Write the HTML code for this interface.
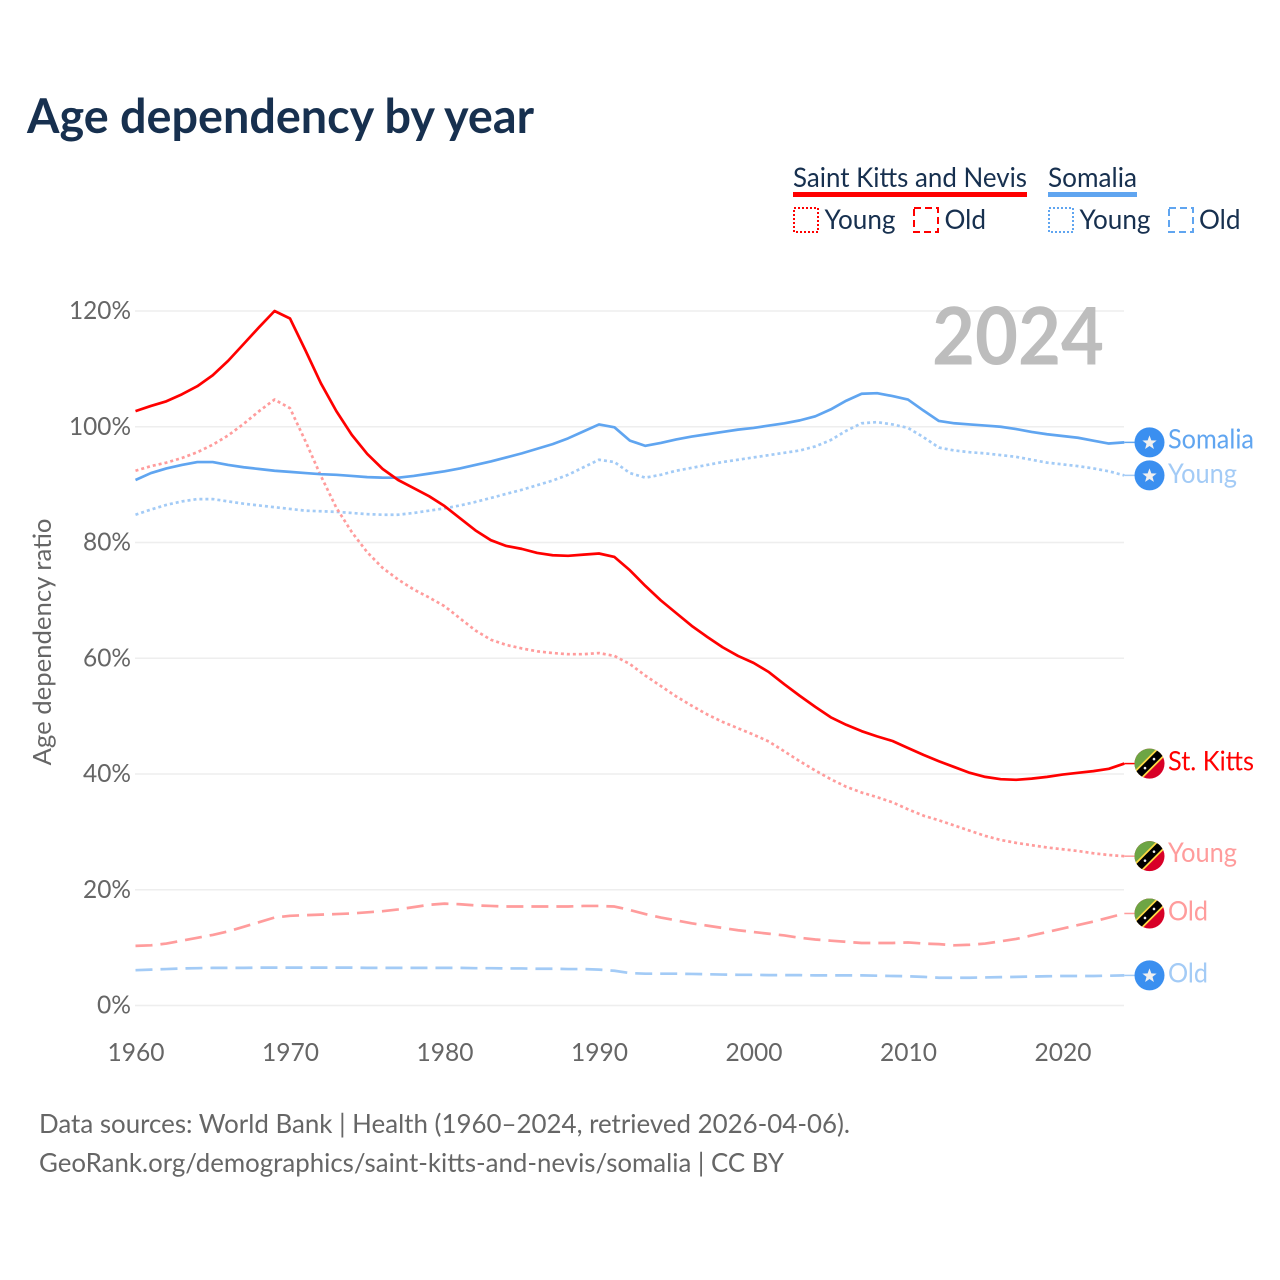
<!DOCTYPE html>
<html lang="en">
<head>
<meta charset="utf-8">
<title>Age dependency by year</title>
<style>
html,body{margin:0;padding:0;background:#fff;}
svg{display:block;}
text{font-family:"Lato","Carlito","Liberation Sans",sans-serif;}
</style>
</head>
<body>
<svg id="chart" xmlns="http://www.w3.org/2000/svg" width="1280" height="1280" viewBox="0 0 1280 1280">
  <rect width="1280" height="1280" fill="#fff"/>
  <text x="27" y="133" font-size="47.5" font-weight="700" fill="#17304f" textLength="507" lengthAdjust="spacingAndGlyphs">Age dependency by year</text>

  <g>
    <text x="793" y="187" font-size="27" fill="#17304f" textLength="234" lengthAdjust="spacingAndGlyphs">Saint Kitts and Nevis</text>
    <rect x="793" y="192" width="234" height="5" fill="#ff0000"/>
    <text x="1048" y="187" font-size="27" fill="#17304f" textLength="89" lengthAdjust="spacingAndGlyphs">Somalia</text>
    <rect x="1048" y="192" width="89" height="5" fill="#60a5f0"/>

    <rect x="794" y="208" width="24" height="24" fill="none" stroke="#ff0000" stroke-width="2" stroke-dasharray="2 2"/>
    <text x="824.5" y="229" font-size="27" fill="#17304f" textLength="71" lengthAdjust="spacingAndGlyphs">Young</text>
    <rect x="914" y="208" width="24" height="24" fill="none" stroke="#ff0000" stroke-width="2" stroke-dasharray="7 4"/>
    <text x="944.5" y="229" font-size="27" fill="#17304f" textLength="41.5" lengthAdjust="spacingAndGlyphs">Old</text>

    <rect x="1049" y="208" width="24" height="24" fill="none" stroke="#60a5f0" stroke-width="2" stroke-dasharray="2 2"/>
    <text x="1079.5" y="229" font-size="27" fill="#17304f" textLength="71" lengthAdjust="spacingAndGlyphs">Young</text>
    <rect x="1169" y="208" width="24" height="24" fill="none" stroke="#60a5f0" stroke-width="2" stroke-dasharray="7 4"/>
    <text x="1199" y="229" font-size="27" fill="#17304f" textLength="41.5" lengthAdjust="spacingAndGlyphs">Old</text>
  </g>

  <g id="grid"></g>
  <g id="yticks"></g>
  <g id="xticks"></g>
  <text transform="translate(51 642) rotate(-90)" text-anchor="middle" font-size="25" fill="#666" textLength="247" lengthAdjust="spacingAndGlyphs">Age dependency ratio</text>
  <text x="932" y="364.5" font-size="80" font-weight="700" fill="#bdbdbd" textLength="172" lengthAdjust="spacingAndGlyphs">2024</text>
  <g id="series"></g>
  <g id="endlabels"></g>

  <text x="39" y="1133" font-size="26" fill="#666" textLength="811" lengthAdjust="spacingAndGlyphs">Data sources: World Bank | Health (1960–2024, retrieved 2026-04-06).</text>
  <text x="39" y="1172" font-size="26" fill="#666" textLength="745" lengthAdjust="spacingAndGlyphs">GeoRank.org/demographics/saint-kitts-and-nevis/somalia | CC BY</text>
</svg>
<script>
const startYear = 1960;
const xTickYears = [1960, 1970, 1980, 1990, 2000, 2010, 2020];
const yTickValues = [0, 20, 40, 60, 80, 100, 120];

const kittsTotal = [102.7,103.6,104.4,105.6,107,108.9,111.4,114.3,117.2,120,118.7,113.2,107.5,102.7,98.6,95.3,92.7,90.8,89.4,88,86.3,84.2,82.1,80.4,79.4,78.9,78.2,77.8,77.7,77.9,78.1,77.5,75.2,72.5,70,67.8,65.6,63.7,61.9,60.4,59.2,57.6,55.5,53.5,51.6,49.8,48.5,47.4,46.5,45.7,44.5,43.3,42.2,41.2,40.2,39.5,39.1,39,39.2,39.5,39.9,40.2,40.5,40.9,41.8];
const kittsYoung = [92.4,93.2,93.8,94.6,95.6,96.9,98.5,100.5,102.7,104.7,103.2,97.5,91.5,86,81.8,78.3,75.6,73.6,71.9,70.5,69,66.9,64.8,63.2,62.3,61.7,61.2,60.9,60.7,60.7,60.9,60.4,59,57,55.2,53.4,51.8,50.3,49,47.9,46.8,45.6,43.9,42.2,40.6,39.1,37.8,36.8,36,35.1,33.9,32.8,32,31.1,30.2,29.3,28.6,28.1,27.7,27.3,27,26.7,26.3,26,25.8];
const kittsOld = [10.3,10.4,10.7,11.2,11.7,12.2,12.8,13.6,14.4,15.2,15.5,15.6,15.7,15.8,15.9,16.1,16.3,16.6,17,17.4,17.6,17.5,17.3,17.2,17.1,17.1,17.1,17.1,17.1,17.2,17.2,17.1,16.5,15.8,15.2,14.7,14.2,13.8,13.4,13,12.7,12.4,12.1,11.7,11.4,11.2,11,10.8,10.8,10.8,10.9,10.7,10.6,10.4,10.5,10.7,11.1,11.5,12.1,12.7,13.3,13.9,14.5,15.2,15.9];
const somaliaTotal = [90.8,92,92.8,93.4,93.9,93.9,93.4,93,92.7,92.4,92.2,92,91.8,91.7,91.5,91.3,91.2,91.2,91.5,91.9,92.3,92.8,93.4,94,94.7,95.4,96.2,97,98,99.2,100.4,99.9,97.6,96.7,97.2,97.8,98.3,98.7,99.1,99.5,99.8,100.2,100.6,101.1,101.8,103,104.5,105.7,105.8,105.3,104.7,102.8,101,100.6,100.4,100.2,100,99.6,99.1,98.7,98.4,98.1,97.6,97.1,97.3];
const somaliaYoung = [84.8,85.7,86.5,87.1,87.5,87.5,87.1,86.7,86.4,86.1,85.8,85.5,85.4,85.3,85.1,84.9,84.8,84.8,85.1,85.5,85.9,86.4,87,87.7,88.4,89.1,89.9,90.7,91.7,93,94.3,93.9,92,91.2,91.7,92.4,92.9,93.4,93.9,94.3,94.7,95.1,95.5,95.9,96.6,97.7,99.3,100.6,100.8,100.4,99.8,98.2,96.4,95.9,95.6,95.4,95.1,94.8,94.3,93.8,93.5,93.2,92.8,92.3,91.6];
const somaliaOld = [6.1,6.2,6.3,6.4,6.45,6.5,6.5,6.5,6.55,6.55,6.55,6.55,6.55,6.55,6.55,6.5,6.5,6.5,6.5,6.5,6.5,6.5,6.45,6.45,6.4,6.4,6.35,6.35,6.3,6.3,6.2,6,5.6,5.5,5.5,5.5,5.45,5.4,5.35,5.3,5.3,5.25,5.25,5.25,5.2,5.2,5.2,5.2,5.15,5.1,5.05,4.95,4.8,4.8,4.8,4.85,4.9,4.95,5,5.05,5.1,5.1,5.1,5.15,5.2];

const SVG_NS = 'http://www.w3.org/2000/svg';
function xScale(year) { return 135.5 + (year - startYear) * 15.45; }
function yScale(value) { return 1005.5 - value * 5.7875; }
function make(tag, attrs, parent) {
  const el = document.createElementNS(SVG_NS, tag);
  for (const k in attrs) el.setAttribute(k, attrs[k]);
  parent.appendChild(el);
  return el;
}
function starPoints(cx, cy, r) {
  const pts = [];
  for (let i = 0; i < 10; i++) {
    const rad = i % 2 ? r * 0.42 : r;
    const a = -Math.PI / 2 + i * Math.PI / 5;
    pts.push((cx + rad * Math.cos(a)).toFixed(2) + ',' + (cy + rad * Math.sin(a)).toFixed(2));
  }
  return pts.join(' ');
}

const gridGroup = document.getElementById('grid');
const yTickGroup = document.getElementById('yticks');
const xTickGroup = document.getElementById('xticks');
const seriesGroup = document.getElementById('series');
const labelGroup = document.getElementById('endlabels');

yTickValues.forEach(function (v) {
  const line = make('line', { x1: 135, x2: 1124, y1: yScale(v), y2: yScale(v), stroke: '#eeeeee', 'stroke-width': 1.5 }, gridGroup);
  
  
  const label = String(v) + '%';
  const t = make('text', { x: 131, y: yScale(v) + 8, 'text-anchor': 'end', 'font-size': 25, fill: '#666', textLength: 14 * String(v).length + 20, lengthAdjust: 'spacingAndGlyphs' }, yTickGroup);
  t.textContent = label;
  
  
});

xTickYears.forEach(function (yr) {
  const t = make('text', { x: xScale(yr) + 0.5, y: 1061, 'text-anchor': 'middle', 'font-size': 25, fill: '#666', textLength: 57, lengthAdjust: 'spacingAndGlyphs' }, xTickGroup);
  t.textContent = String(yr);
  
  
});

const seriesList = [
  { id: 'somalia-old', values: somaliaOld, color: '#a3cbf6', dash: '17 8', label: 'Old', width: 40, flag: 'so', dy: 7 },
  { id: 'saint-kitts-old', values: kittsOld, color: '#ff9c9c', dash: '17 8', label: 'Old', width: 40, flag: 'kn', dy: 7 },
  { id: 'somalia-young', values: somaliaYoung, color: '#a3cbf6', dash: '3 3', label: 'Young', width: 69, flag: 'so', dy: 7.5 },
  { id: 'saint-kitts-young', values: kittsYoung, color: '#ff9c9c', dash: '3 3', label: 'Young', width: 69, flag: 'kn', dy: 6 },
  { id: 'somalia-total', values: somaliaTotal, color: '#60a5f0', dash: '', label: 'Somalia', width: 86, flag: 'so', dy: 6 },
  { id: 'saint-kitts-total', values: kittsTotal, color: '#ff0000', dash: '', label: 'St. Kitts', width: 86, flag: 'kn', dy: 7 }
];

const defs = make('defs', {}, document.getElementById('chart'));

seriesList.forEach(function (s, i) {
  const d = s.values.map(function (v, j) {
    return (j ? 'L' : 'M') + xScale(startYear + j).toFixed(2) + ' ' + yScale(v).toFixed(2);
  }).join(' ');
  const path = make('path', { d: d, fill: 'none', stroke: s.color, 'stroke-width': 2.7, 'stroke-linejoin': 'round' }, seriesGroup);
  if (s.dash) path.setAttribute('stroke-dasharray', s.dash);
  
  

  const lastValue = s.values[s.values.length - 1];
  const lx = xScale(startYear + s.values.length - 1);
  const ly = yScale(lastValue);
  const cx = 1149.5;

  const conn = make('line', { x1: lx, x2: cx - 15, y1: ly, y2: ly, stroke: s.color, 'stroke-width': 1.5 }, labelGroup);
  
  

  const icon = make('g', {}, labelGroup);
  
  
  if (s.flag === 'so') {
    make('circle', { cx: cx, cy: ly, r: 15, fill: '#3a8ff0' }, icon);
    make('polygon', { points: starPoints(cx, ly + 0.5, 7.5), fill: '#f0f0f0' }, icon);
  } else {
    const clip = make('clipPath', { id: 'clip-' + i }, defs);
    make('circle', { cx: cx, cy: ly, r: 15 }, clip);
    const g = make('g', { 'clip-path': 'url(#clip-' + i + ')' }, icon);
    make('rect', { x: cx - 16, y: ly - 16, width: 32, height: 32, fill: '#d80027' }, g);
    make('polygon', { points: (cx - 16) + ',' + (ly - 16) + ' ' + (cx + 16) + ',' + (ly - 16) + ' ' + (cx - 16) + ',' + (ly + 16), fill: '#6da544' }, g);
    make('line', { x1: cx - 17, y1: ly + 17, x2: cx + 17, y2: ly - 17, stroke: '#ffda44', 'stroke-width': 11 }, g);
    make('line', { x1: cx - 17, y1: ly + 17, x2: cx + 17, y2: ly - 17, stroke: '#000000', 'stroke-width': 7.5 }, g);
    make('circle', { cx: cx - 4.5, cy: ly + 4.5, r: 1.3, fill: '#f0f0f0' }, g);
    make('circle', { cx: cx + 4.5, cy: ly - 4.5, r: 1.3, fill: '#f0f0f0' }, g);
  }

  const text = make('text', { x: 1168, y: ly + s.dy, 'font-size': 27, fill: s.color, textLength: s.width, lengthAdjust: 'spacingAndGlyphs' }, labelGroup);
  text.textContent = s.label;
  
  
});
</script>
</body>
</html>
